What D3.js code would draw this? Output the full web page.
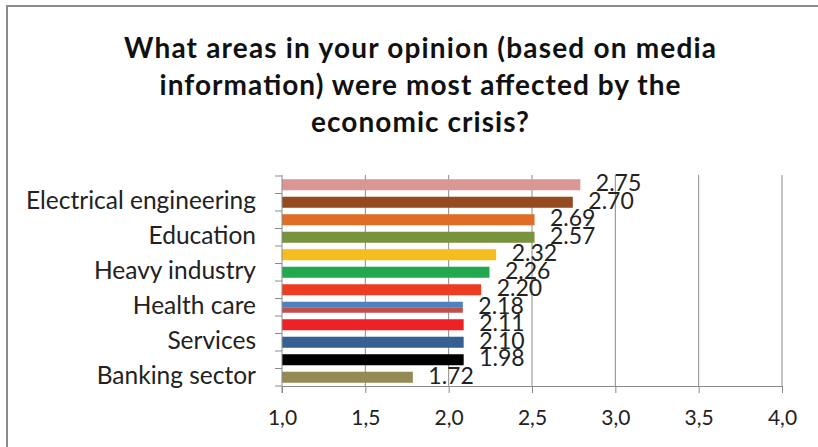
<!DOCTYPE html>
<html>
<head>
<meta charset="utf-8">
<script src="https://cdn.jsdelivr.net/npm/d3@7"></script>
<style>
  html, body { margin: 0; padding: 0; background: #fff; }
  svg { display: block; }
</style>
</head>
<body>
<svg id="chart" width="818" height="447"></svg>
<script>
// ---- data ----
const titleLines = [
  "What areas in your opinion (based on media",
  "information) were most affected by the",
  "economic crisis?"
];
// only every other category label is shown in the original chart
const categories = [
  "", "Electrical engineering", "", "Education", "", "Heavy industry",
  "", "Health care", "", "Services", "", "Banking sector"
];
// bar lengths as drawn
const barValues = [2.79, 2.745, 2.515, 2.515, 2.285, 2.245, 2.195, 2.085, 2.09, 2.09, 2.09, 1.785];
// data labels as printed next to bars
const labelValues = [2.75, 2.70, 2.69, 2.57, 2.32, 2.26, 2.20, 2.18, 2.11, 2.10, 1.98, 1.72];
const xTicks = [1.0, 1.5, 2.0, 2.5, 3.0, 3.5, 4.0];
const barColors = [
  ["#D99694"], ["#954A20"], ["#E06D26"], ["#77933C"], ["#F6BD1E"], ["#22A84F"],
  ["#EE3C22"], ["#4F81BD", "#C0504D"], ["#EE2126"], ["#376092"], ["#000000"], ["#948A54"]
];

// ---- drawing ----
const svg = d3.select("#chart");
const font = "Lato, 'Open Sans', sans-serif";

// outer frame
svg.append("rect")
  .attr("x", 7).attr("y", 6).attr("width", 830).attr("height", 460)
  .attr("fill", "#fff").attr("stroke", "#8c8c8c").attr("stroke-width", 2);

// title
const titleWidths = [592, 521, 218];
svg.append("g").selectAll("text").data(titleLines).join("text")
  .attr("x", 420).attr("y", (d, i) => 58 + i * 37)
  .attr("text-anchor", "middle")
  .attr("font-family", font).attr("font-weight", 700).attr("font-size", 28)
  .attr("textLength", (d, i) => titleWidths[i]).attr("lengthAdjust", "spacing")
  .attr("fill", "#111")
  .text(d => d);

const x = d3.scaleLinear().domain([1, 4]).range([282, 782]);
const idx = d3.range(categories.length);
const y = d3.scaleBand().domain(idx).range([176, 386])
  .paddingInner(0.37).paddingOuter(0.185);

// gridlines
svg.append("g").selectAll("line").data(xTicks.slice(1)).join("line")
  .attr("x1", d => x(d)).attr("x2", d => x(d))
  .attr("y1", 175).attr("y2", 386)
  .attr("stroke", "#8a8a8a").attr("stroke-width", 1);

// bars
const bars = svg.append("g");
idx.forEach(i => {
  const cols = barColors[i];
  const h = y.bandwidth() / cols.length;
  cols.forEach((c, k) => {
    bars.append("rect")
      .attr("x", x(1)).attr("y", y(i) + k * h)
      .attr("width", x(barValues[i]) - x(1)).attr("height", h)
      .attr("fill", c);
  });
});

// x axis
const xAxis = d3.axisBottom(x).tickValues(xTicks)
  .tickFormat(d => d3.format(".1f")(d).replace(".", ","))
  .tickSize(7).tickPadding(0);
const gx = svg.append("g").attr("transform", "translate(0,386)").call(xAxis);
gx.select(".domain").attr("stroke", "#8a8a8a");
gx.selectAll(".tick line").attr("stroke", "#8a8a8a");
gx.selectAll(".tick text").attr("font-family", font).attr("font-size", 21).attr("fill", "#222")
  .attr("dy", null).attr("y", 39);

// y axis line and ticks at band boundaries
svg.append("line").attr("x1", x(1)).attr("x2", x(1)).attr("y1", 175).attr("y2", 393)
  .attr("stroke", "#8a8a8a");
const step = y.step();
svg.append("g").selectAll("line").data(d3.range(categories.length + 1)).join("line")
  .attr("x1", x(1) - 7).attr("x2", x(1))
  .attr("y1", d => 176 + d * step).attr("y2", d => 176 + d * step)
  .attr("stroke", "#8a8a8a");

// category labels
svg.append("g").selectAll("text").data(idx.filter(i => categories[i])).join("text")
  .attr("x", 256).attr("y", i => y(i) + y.bandwidth() / 2 + 7)
  .attr("text-anchor", "end")
  .attr("font-family", font).attr("font-size", 24.5).attr("fill", "#222")
  .text(i => categories[i]);

// value labels
svg.append("g").selectAll("text").data(idx).join("text")
  .attr("x", i => x(barValues[i]) + 15.5)
  .attr("y", i => y(i) + y.bandwidth() / 2 + 6.5)
  .attr("font-family", font).attr("font-size", 23).attr("fill", "#222")
  .text(i => labelValues[i].toFixed(2));
</script>
</body>
</html>
